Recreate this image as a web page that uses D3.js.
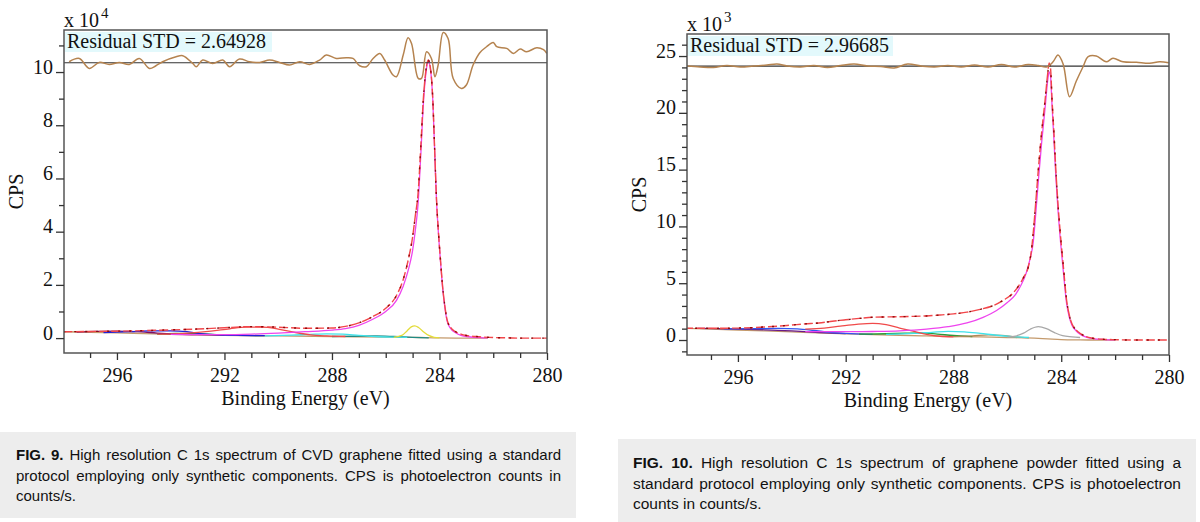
<!DOCTYPE html>
<html>
<head>
<meta charset="utf-8">
<script src="https://cdn.jsdelivr.net/npm/d3@7"></script>
<style>
  body { margin: 0; background: #fff; }
  svg text { font-family: "Liberation Serif", "Times New Roman", serif; fill: #111; }
  svg .cap text { font-family: "Liberation Sans", Arial, sans-serif; fill: #111; }
</style>
</head>
<body>
<svg id="fig" width="1200" height="522"></svg>
<script>
// ---- FIG. 9 : CVD graphene, CPS x 1e4, [binding energy, value] ----
const fig9Envelope = [[298,0.24],[297,0.25],[296,0.26],[295,0.28],[294,0.31],[293,0.34],[292,0.39],[291,0.43],[290,0.41],[289,0.37],[288,0.38],[287.5,0.44],[287,0.57],[286.5,0.8],[286,1.12],[285.6,1.6],[285.35,2.2],[285.15,3.0],[285,3.8],[284.9,4.6],[284.8,5.4],[284.7,7.1],[284.6,9.0],[284.5,10.1],[284.42,10.45],[284.33,10.1],[284.25,9.0],[284.18,7.1],[284.11,5.2],[284.04,4.0],[283.96,2.9],[283.88,1.9],[283.8,1.2],[283.72,0.7],[283.6,0.42],[283.4,0.24],[283.2,0.15],[283,0.1],[282.5,0.05],[282,0.02],[281.5,0.01],[281,0],[280,0]];
const fig9Main = [[294,0.14],[293,0.13],[292,0.13],[291,0.15],[290,0.19],[289,0.24],[288,0.3],[287.5,0.36],[287,0.48],[286.5,0.7],[286,1.0],[285.6,1.42],[285.35,1.95],[285.15,2.6],[285,3.3],[284.9,4.05],[284.8,5.0],[284.7,6.8],[284.6,8.8],[284.5,10.0],[284.42,10.4],[284.33,10.05],[284.25,8.95],[284.18,7.05],[284.11,5.15],[284.04,3.95],[283.96,2.85],[283.88,1.85],[283.8,1.15],[283.72,0.66],[283.6,0.38],[283.4,0.2],[283.2,0.1],[283,0.06],[282.5,0.02],[282.2,0.01]];
const fig9Background = [[298,0.24],[297,0.22],[296,0.2],[295,0.17],[294,0.14],[293,0.12],[292,0.1],[290,0.08],[288,0.06],[286,0.04],[285,0.03],[284.5,0.015],[284,0.005],[283,0],[282.2,0]];
const fig9Yellow = [[285.7,0.03],[285.4,0.1],[285.2,0.28],[285.05,0.42],[284.92,0.46],[284.78,0.4],[284.6,0.24],[284.4,0.1],[284.2,0.03],[284,0.01]];
const fig9Cyan = [[290.5,0.08],[289.5,0.11],[288.8,0.14],[288.2,0.16],[287.6,0.15],[287,0.1],[286.4,0.06],[285.8,0.04],[285.2,0.03]];
const fig9Red = [[294.5,0.15],[293.5,0.18],[292.5,0.26],[291.8,0.35],[291.2,0.41],[290.6,0.41],[290,0.34],[289.4,0.22],[288.8,0.12],[288.2,0.08],[287.5,0.06]];
const fig9Blue = [[296.5,0.21],[295.5,0.24],[294.8,0.27],[294,0.27],[293.4,0.24],[292.8,0.16],[292.2,0.12],[291.5,0.1],[290.5,0.09]];
const fig9Purple = [[297.5,0.23],[296.8,0.25],[296,0.26],[295.3,0.24],[294.5,0.19],[293.8,0.15],[293,0.13],[292,0.11]];
const fig9Green = [[294.5,0.15],[293.8,0.18],[293,0.17],[292.3,0.13],[291.5,0.11],[290.5,0.09]];
const fig9Teal = [[288,0.06],[287.2,0.07],[286.4,0.08],[285.7,0.06],[285,0.03],[284.4,0.01]];
const fig9Residual = [[297.78,1],[297.4,4.3],[297.03,-5.7],[296.66,0.3],[296.29,-1.7],[295.91,0.3],[295.54,-1.7],[295.17,4.3],[294.79,-5.7],[294.55,-3],[294.3,1],[293.8,6],[293.55,7],[293.18,-0.7],[293.05,-4],[292.81,2.7],[292.44,-0.7],[292.06,2.7],[291.81,-4],[291.44,3.7],[291.07,1],[290.69,0.3],[290.32,2.7],[289.95,0.3],[289.58,-2.3],[289.2,1],[288.83,-1.7],[288.46,2.7],[288.21,7.7],[287.84,4.3],[287.46,5],[287.22,4.3],[286.97,-3],[286.72,-4],[286.47,4.3],[286.22,9.3],[286.04,2.7],[285.73,-12.3],[285.6,-14],[285.35,7.7],[285.17,25],[285.04,19.3],[284.79,-15.7],[284.67,-15.7],[284.48,11],[284.3,4.3],[284.17,-14],[284.05,-2.3],[283.86,30.3],[283.68,24.3],[283.49,-15.7],[283.18,-25.7],[283,-22.3],[282.75,-2.3],[282.5,10],[282.25,16],[282,20.3],[281.87,16],[281.5,14.3],[281.25,9.3],[281,13.7],[280.76,11],[280.38,15],[280.13,13],[280.01,9.3]];

// ---- FIG. 10 : graphene powder, CPS x 1e3 ----
const fig10Envelope = [[298,1.03],[297,1.03],[296,1.05],[295.5,1.08],[295,1.15],[294.5,1.22],[294,1.32],[293.5,1.42],[293,1.5],[292.5,1.65],[292,1.78],[291.5,1.9],[291,2.0],[290.5,2.03],[290,2.05],[289.5,2.08],[289,2.12],[288.5,2.2],[288,2.3],[287.5,2.45],[287,2.7],[286.5,3.05],[286.15,3.5],[285.8,4.1],[285.6,4.7],[285.4,5.5],[285.22,6.45],[285.1,8.0],[285.04,9.4],[284.94,12.3],[284.85,15.0],[284.73,18.2],[284.6,21.1],[284.5,23.5],[284.45,24.4],[284.4,24.0],[284.34,21.1],[284.27,18.2],[284.2,15.0],[284.13,12.3],[284.02,9.0],[283.92,6.45],[283.8,3.5],[283.7,2.2],[283.61,1.47],[283.45,0.9],[283.3,0.59],[283.1,0.32],[282.82,0.15],[282.4,0.06],[282,0.03],[281.45,0],[280,0]];
const fig10Main = [[293.5,0.73],[292,0.73],[291,0.75],[290,0.8],[289,0.95],[288.2,1.17],[287.5,1.5],[286.9,2.0],[286.4,2.6],[286,3.3],[285.7,4.0],[285.5,4.8],[285.3,5.9],[285.15,7.2],[285.04,8.6],[284.94,11.3],[284.85,14.0],[284.73,17.3],[284.6,20.4],[284.5,22.9],[284.45,23.6],[284.4,23.3],[284.34,20.6],[284.27,17.6],[284.2,14.4],[284.13,11.8],[284.02,8.5],[283.92,6.0],[283.8,3.2],[283.7,2.0],[283.61,1.35],[283.45,0.82],[283.3,0.52],[283.1,0.28],[282.82,0.12],[282.4,0.04],[282,0.01]];
const fig10Background = [[298,1.03],[297,0.96],[296,0.88],[295,0.8],[294,0.72],[293,0.63],[292,0.55],[291,0.48],[290,0.42],[289,0.36],[288,0.31],[287,0.27],[286,0.22],[285,0.16],[284.5,0.1],[284,0.04],[283.5,0.01],[283,0],[282,0]];
const fig10Gray = [[286,0.25],[285.7,0.35],[285.4,0.6],[285.15,0.95],[284.85,1.17],[284.55,1.0],[284.25,0.65],[283.95,0.38],[283.6,0.28],[283.3,0.22]];
const fig10Red = [[293.5,0.95],[292.8,1.05],[292.2,1.22],[291.6,1.38],[291,1.47],[290.5,1.35],[290,1.05],[289.5,0.78],[289,0.5],[288.5,0.33],[288,0.28]];
const fig10Cyan = [[290.5,0.5],[289.5,0.58],[288.8,0.68],[288.2,0.76],[287.6,0.72],[287,0.58],[286.4,0.42],[285.8,0.3],[285.2,0.22]];
const fig10Green = [[291.5,0.52],[290.5,0.55],[289.8,0.6],[289.2,0.62],[288.6,0.52],[288,0.4],[287.3,0.3]];
const fig10Tan = [[288,0.3],[287.3,0.36],[286.7,0.45],[286.2,0.4],[285.7,0.28],[285.2,0.2]];
const fig10Blue = [[296.5,0.98],[295.5,1.0],[294.5,1.02],[293.8,0.98],[293.2,0.85],[292.6,0.68],[292,0.58],[291,0.5]];
const fig10Purple = [[297.5,1.02],[296.8,1.0],[296,0.95],[295,0.9],[294,0.8],[293,0.66],[292,0.56]];
const fig10Residual = [[297.9,0],[297.4,-1],[296.91,-1.5],[296.41,0.5],[295.91,-1],[295.42,0],[294.92,1],[294.55,2],[294.17,0],[293.68,-1],[293.18,0.5],[292.68,-1.5],[292.19,0.5],[291.69,2],[291.19,0],[290.69,-0.5],[290.2,-2],[289.7,2],[289.2,0],[288.71,-1],[288.21,0.5],[287.71,-1],[287.22,1],[286.72,-1],[286.22,1.5],[285.73,-1],[285.23,1.5],[284.85,0.5],[284.55,-1],[284.31,4],[284.12,11],[283.93,2],[283.69,-30.7],[283.44,-15],[283.19,-0.7],[283,9.3],[282.7,10],[282.33,4.3],[282.08,7.7],[281.71,4.3],[281.21,3.7],[280.72,2.7],[280.35,4.3],[280.01,3.3]];

// ---- ticks & texts ----
const xTickLabels = [296, 292, 288, 284, 280];
const fig9YTicks = [0, 2, 4, 6, 8, 10];
const fig10YTicks = [0, 5, 10, 15, 20, 25];
const fig9Caption = [
  "FIG. 9. High resolution C 1s spectrum of CVD graphene fitted using a standard",
  "protocol employing only synthetic components. CPS is photoelectron counts in",
  "counts/s."
];
const fig10Caption = [
  "FIG. 10. High resolution C 1s spectrum of graphene powder fitted using a",
  "standard protocol employing only synthetic components. CPS is photoelectron",
  "counts in counts/s."
];

const svg = d3.select("#fig");
svg.append("rect").attr("width", 1200).attr("height", 522).attr("fill", "#fff");

function drawChart(cfg) {
  const g = svg.append("g");
  const x = d3.scaleLinear().domain([cfg.xMax, 280]).range([cfg.left, cfg.right]);
  const y = d3.scaleLinear().domain(cfg.yDomain).range([cfg.bottom, cfg.top]);
  const y0 = y(cfg.resZero);
  const r = d3.scaleLinear().domain([-30, 30]).range([y0 + 30, y0 - 30]);

  g.append("clipPath").attr("id", "clip" + cfg.id)
    .append("rect")
    .attr("x", cfg.left).attr("y", cfg.top)
    .attr("width", cfg.right - cfg.left).attr("height", cfg.bottom - cfg.top);

  const plot = g.append("g").attr("clip-path", `url(#clip${cfg.id})`);

  const line = d3.line().x(d => x(d[0])).y(d => y(d[1])).curve(d3.curveMonotoneX);

  // components first, then envelope and data on top
  cfg.components.forEach(c => {
    plot.append("path")
      .attr("d", line(c.data))
      .attr("fill", "none")
      .attr("stroke", c.color)
      .attr("stroke-width", 1.3);
  });

  plot.append("path")
    .attr("d", line(cfg.envelope))
    .attr("fill", "none")
    .attr("stroke", "#f2464a")
    .attr("stroke-width", 1.4)
    .attr("stroke-dasharray", "9,3");

  plot.append("path")
    .attr("d", line(cfg.envelope))
    .attr("fill", "none")
    .attr("stroke", "#8e0a0a")
    .attr("stroke-width", 1.4)
    .attr("stroke-dasharray", "2,9");

  // residual panel
  plot.append("line")
    .attr("x1", cfg.left).attr("x2", cfg.right)
    .attr("y1", y0).attr("y2", y0)
    .attr("stroke", "#333").attr("stroke-width", 1.2);

  plot.append("path")
    .attr("d", d3.line().x(d => x(d[0])).y(d => r(d[1])).curve(d3.curveCatmullRom)(cfg.residual))
    .attr("fill", "none")
    .attr("stroke", "#b5834f")
    .attr("stroke-width", 1.5);

  // residual label
  g.append("rect")
    .attr("x", cfg.left + 1).attr("y", cfg.top + 2)
    .attr("width", cfg.boxW).attr("height", 20)
    .attr("fill", "#e3f9fc");
  g.append("text")
    .attr("x", cfg.left + 3).attr("y", cfg.top + 18)
    .attr("font-size", 20)
    .text(cfg.stdLabel);

  // frame
  g.append("rect")
    .attr("x", cfg.left).attr("y", cfg.top)
    .attr("width", cfg.right - cfg.left).attr("height", cfg.bottom - cfg.top)
    .attr("fill", "none").attr("stroke", "#555").attr("stroke-width", 1.5);

  // x axis
  const xMinor = d3.range(281, 298).filter(v => !xTickLabels.includes(v));
  const xa = g.append("g").attr("transform", `translate(0,${cfg.bottom})`)
    .call(d3.axisBottom(x).tickValues(xTickLabels).tickSize(7).tickFormat(d3.format("d")));
  xa.selectAll("text").attr("y", 29).attr("dy", null).attr("font-size", 20).attr("font-family", null).attr("fill", "#111");
  g.append("g").attr("transform", `translate(0,${cfg.bottom})`)
    .call(d3.axisBottom(x).tickValues(xMinor).tickSize(5).tickFormat(""));

  // y axis
  const ya = g.append("g").attr("transform", `translate(${cfg.left},0)`)
    .call(d3.axisLeft(y).tickValues(cfg.yTicks).tickSize(8).tickPadding(3).tickFormat(d3.format("d")));
  ya.selectAll("text").attr("dy", "0.05em").attr("font-size", 20).attr("font-family", null).attr("fill", "#111");
  g.append("g").attr("transform", `translate(${cfg.left},0)`)
    .call(d3.axisLeft(y).tickValues(cfg.yMinor).tickSize(5).tickFormat(""));

  g.selectAll(".domain").remove();
  g.selectAll(".tick line").attr("stroke", "#333").attr("stroke-width", 1.3);

  // multiplier
  g.append("text").attr("x", cfg.left).attr("y", cfg.expY).attr("font-size", 20).text("x 10");
  g.append("text").attr("x", cfg.left + 37).attr("y", cfg.expY - 9).attr("font-size", 15).text(cfg.exponent);

  // axis titles
  g.append("text")
    .attr("x", (cfg.left + cfg.right) / 2).attr("y", cfg.bottom + 52)
    .attr("text-anchor", "middle").attr("font-size", 20)
    .text("Binding Energy (eV)");
  g.append("text")
    .attr("transform", `translate(${cfg.left - 41},${(cfg.top + cfg.bottom) / 2}) rotate(-90)`)
    .attr("text-anchor", "middle").attr("font-size", 20)
    .text("CPS");
}

drawChart({
  id: 9, left: 64, right: 547, top: 30, bottom: 353, xMax: 297.97,
  yDomain: [-0.56, 11.58], yTicks: fig9YTicks, yMinor: [1, 3, 5, 7, 9, 11],
  resZero: 10.35, exponent: "4", expY: 27, boxW: 207,
  stdLabel: "Residual STD = 2.64928",
  envelope: fig9Envelope, residual: fig9Residual,
  components: [
    { data: fig9Background, color: "#c49a6c" },
    { data: fig9Teal, color: "#1f8a84" },
    { data: fig9Green, color: "#2a9a3a" },
    { data: fig9Purple, color: "#7d1065" },
    { data: fig9Blue, color: "#2222d8" },
    { data: fig9Cyan, color: "#3fe3ea" },
    { data: fig9Red, color: "#f04a4a" },
    { data: fig9Yellow, color: "#e3dc3a" },
    { data: fig9Main, color: "#ee44ee" }
  ]
});

drawChart({
  id: 10, left: 687, right: 1169, top: 34, bottom: 355, xMax: 297.89,
  yDomain: [-1.32, 26.94], yTicks: fig10YTicks,
  yMinor: d3.range(-1, 27).filter(v => v % 5 !== 0),
  resZero: 24.12, exponent: "3", expY: 31, boxW: 205,
  stdLabel: "Residual STD = 2.96685",
  envelope: fig10Envelope, residual: fig10Residual,
  components: [
    { data: fig10Background, color: "#c49a6c" },
    { data: fig10Purple, color: "#6a1a8a" },
    { data: fig10Blue, color: "#3355ee" },
    { data: fig10Green, color: "#2a9a3a" },
    { data: fig10Tan, color: "#b08a5a" },
    { data: fig10Cyan, color: "#3fe3ea" },
    { data: fig10Red, color: "#f04a4a" },
    { data: fig10Gray, color: "#a8a8a8" },
    { data: fig10Main, color: "#ee44ee" }
  ]
});

// captions, justified word by word
function caption(lines, box, x0, x1, ys, fs, boldCount) {
  const g = svg.append("g").attr("class", "cap");
  g.append("rect").attr("x", box[0]).attr("y", box[1]).attr("width", box[2]).attr("height", box[3]).attr("fill", "#ededed");
  lines.forEach((line, i) => {
    const words = line.split(" ");
    const nodes = words.map((w, j) => g.append("text")
      .attr("y", ys[i]).attr("font-size", fs)
      .attr("font-weight", i === 0 && j < boldCount ? "bold" : null)
      .text(w));
    const widths = nodes.map(n => n.node().getComputedTextLength());
    const gap = i < lines.length - 1 ? (x1 - x0 - d3.sum(widths)) / (words.length - 1) : fs * 0.28;
    let xx = x0;
    nodes.forEach((n, j) => { n.attr("x", xx); xx += widths[j] + gap; });
  });
}

caption(fig9Caption, [0, 432, 576, 86], 16, 561, [460, 481, 501], 15, 2);
caption(fig10Caption, [618, 439, 578, 83], 633, 1181, [468, 489, 509], 15.5, 2);
</script>
</body>
</html>
